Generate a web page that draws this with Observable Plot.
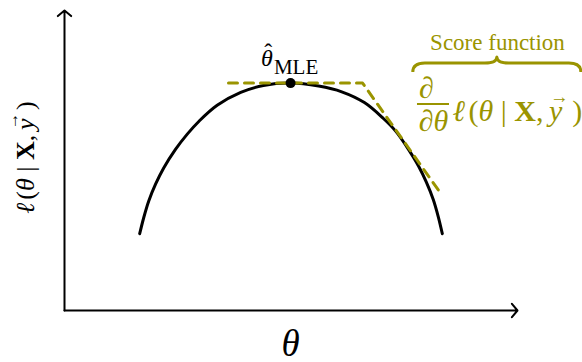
<!DOCTYPE html>
<html>
<head>
<meta charset="utf-8">
<script src="https://cdn.jsdelivr.net/npm/d3@7"></script>
<script src="https://cdn.jsdelivr.net/npm/@observablehq/plot@0.6"></script>
<style>
  html, body { margin: 0; padding: 0; background: #fff; }
  #chart svg { display: block; }
  #chart svg text, #chart svg tspan { font-family: "Liberation Serif", "Times New Roman", serif; }
</style>
</head>
<body>
<div id="chart"></div>
<script>
// Log-likelihood ℓ(θ | X, y) sampled along θ (arbitrary units)
const theta  = [1.66, 1.75, 1.86, 2.01, 2.19, 2.45, 2.71, 2.97, 3.37, 3.89, 4.39, 4.99,
                5.61, 6.12, 6.62, 7.04, 7.31, 7.55, 7.82, 7.99, 8.14, 8.25, 8.34];
const loglik = [2.56, 3.10, 3.65, 4.21, 4.75, 5.37, 5.88, 6.31, 6.84, 7.27, 7.50, 7.58,
                7.48, 7.29, 6.93, 6.40, 5.98, 5.47, 4.80, 4.27, 3.70, 3.13, 2.56];

// Score-function sketch: flat tangent through the maximum, then a falling tangent
const tangentTheta = [3.62, 6.58, 8.34];
const tangentValue = [7.58, 7.58, 3.83];

// Axis extents (the arrow tips)
const axisEnd = [10, 10];

// Label strings
const xLabel = "θ";
const yLabel = "ℓ(θ|X,y)";
const mleLabel = "θMLE";
const scoreTitle = "Score function";
const partial = "∂";
const partialTheta = "∂θ";

const olive = "#9a9400";
const serif = "Liberation Serif, Times New Roman, serif";

const curve = theta.map((t, i) => ({theta: t, ll: loglik[i]}));
const tangent = tangentTheta.map((t, i) => ({theta: t, ll: tangentValue[i]}));
const iMax = d3.maxIndex(loglik);
const mle = [{theta: theta[iMax], ll: loglik[iMax]}];

// Curly brace over the derivative, opening downward
const brace = {x1: 7.70, x2: 11.41, y: 8.23};
function braceMark(index, {x, y}) {
  const x1 = x(brace.x1), x2 = x(brace.x2), y0 = y(brace.y), xm = (x1 + x2) / 2;
  const curl = 9, r = 12, tip = 6;
  const d = `M${x1},${y0 + curl} Q${x1},${y0} ${x1 + r},${y0} L${xm - r},${y0} Q${xm},${y0} ${xm},${y0 - tip}`
          + ` Q${xm},${y0} ${xm + r},${y0} L${x2 - r},${y0} Q${x2},${y0} ${x2},${y0 + curl}`;
  const p = document.createElementNS("http://www.w3.org/2000/svg", "path");
  p.setAttribute("d", d);
  p.setAttribute("fill", "none");
  p.setAttribute("stroke", olive);
  p.setAttribute("stroke-width", 3);
  p.setAttribute("stroke-linejoin", "round");
  const g = document.createElementNS("http://www.w3.org/2000/svg", "g");
  g.appendChild(p);
  return g;
}

const txt = {fontFamily: serif, lineAnchor: "bottom"};

const plot = Plot.plot({
  width: 582,
  height: 362,
  marginLeft: 64,
  marginRight: 65,
  marginTop: 10,
  marginBottom: 52,
  x: {domain: [0, 10], axis: null},
  y: {domain: [0, 10], axis: null},
  style: {fontFamily: serif, background: "white", overflow: "visible"},
  marks: [
    // axes with arrow heads
    Plot.arrow([{x1: 0, y1: 0, x2: axisEnd[0], y2: 0}, {x1: 0, y1: 0, x2: 0, y2: axisEnd[1]}], {
      x1: "x1", y1: "y1", x2: "x2", y2: "y2",
      stroke: "black", strokeWidth: 2, headLength: 6.5, headAngle: 100
    }),
    Plot.line(curve, {x: "theta", y: "ll", curve: "catmull-rom", stroke: "black", strokeWidth: 3}),
    Plot.line(tangent, {x: "theta", y: "ll", stroke: olive, strokeWidth: 3, strokeDasharray: "9,7"}),
    Plot.dot(mle, {x: "theta", y: "ll", r: 5, fill: "black"}),
    Plot.text(mle, {...txt, x: "theta", y: "ll", text: () => mleLabel, dx: -1, dy: -17,
      fontSize: 24, fill: "black"}),
    // axis labels
    Plot.text([{x: 4.99, y: -1.5}], {...txt, x: "x", y: "y", text: () => xLabel,
      fontSize: 37, fontStyle: "italic", fill: "black"}),
    Plot.text([{x: -0.684, y: 5.1}], {...txt, x: "x", y: "y", text: () => yLabel, rotate: -90,
      fontSize: 26, fill: "black"}),
    // score-function annotation
    Plot.text([{x: 9.558, y: 8.667}], {...txt, x: "x", y: "y", text: () => scoreTitle,
      fontSize: 23, fill: olive}),
    braceMark,
    Plot.text([{x: 7.991, y: 7.067}], {...txt, x: "x", y: "y", text: () => partial,
      fontSize: 30, fontStyle: "italic", fill: olive}),
    Plot.ruleY([6.883], {x1: 7.792, x2: 8.499, stroke: olive, strokeWidth: 2}),
    Plot.text([{x: 8.146, y: 6.0}], {...txt, x: "x", y: "y", text: () => partialTheta,
      fontSize: 30, fontStyle: "italic", fill: olive}),
    Plot.text([{x: 8.565, y: 6.333}], {...txt, x: "x", y: "y", text: () => yLabel, textAnchor: "start",
      fontSize: 30, fill: olive})
  ]
});

document.getElementById("chart").appendChild(plot);

// Formula runs: italic / bold / subscript pieces, gaps in em, accents drawn above a glyph
const formula = [
  {s: "ℓ", i: true},
  {s: "(", gap: 0.12},
  {s: "θ", i: true},
  {s: "|", gap: 0.25},
  {s: "X", b: true, gap: 0.25},
  {s: ","},
  {s: "y", i: true, gap: 0.18, accent: {ch: "→", size: 0.62, rise: 0.58, shift: 0.12}},
  {s: ")", gap: 0.33}
];
const mleRuns = [
  {s: "θ", i: true, accent: {ch: "ˆ", size: 1, rise: 0.26, shift: 0.06}},
  {s: "MLE", size: 21, dy: 8, gap: 0.05}
];

const NS = "http://www.w3.org/2000/svg";
function richText(t, parts, fontSize) {
  t.textContent = "";
  const nodes = [];
  for (const p of parts) {
    const ts = document.createElementNS(NS, "tspan");
    ts.textContent = p.s;
    if (p.i) ts.setAttribute("font-style", "italic");
    if (p.b) ts.setAttribute("font-weight", "bold");
    if (p.size) ts.setAttribute("font-size", p.size);
    t.appendChild(ts);
    nodes.push({node: ts, gap: (p.gap || 0) * fontSize, dy: p.dy || 0});
    if (p.accent) {
      const a = document.createElementNS(NS, "tspan");
      a.textContent = p.accent.ch;
      a.setAttribute("font-size", p.accent.size * fontSize);
      a.setAttribute("font-style", "normal");
      t.appendChild(a);
      nodes.push({node: a, base: ts, accent: p.accent});
    }
  }
  let carryDx = 0, carryDy = 0;
  for (const e of nodes) {
    if (e.base) {
      const wb = e.base.getComputedTextLength(), wa = e.node.getComputedTextLength();
      const shift = e.accent.shift * fontSize, rise = e.accent.rise * fontSize;
      e.node.setAttribute("dx", -(wb + wa) / 2 + shift);
      e.node.setAttribute("dy", -rise);
      carryDx = (wb - wa) / 2 - shift;
      carryDy = rise;
    } else {
      e.node.setAttribute("dx", e.gap + carryDx);
      e.node.setAttribute("dy", e.dy + carryDy);
      carryDx = 0; carryDy = 0;
    }
  }
}

plot.querySelectorAll("text").forEach((t) => {
  const size = parseFloat(getComputedStyle(t).fontSize);
  if (t.textContent === yLabel) richText(t, formula, size);
  else if (t.textContent === mleLabel) richText(t, mleRuns, size);
});
</script>
</body>
</html>
